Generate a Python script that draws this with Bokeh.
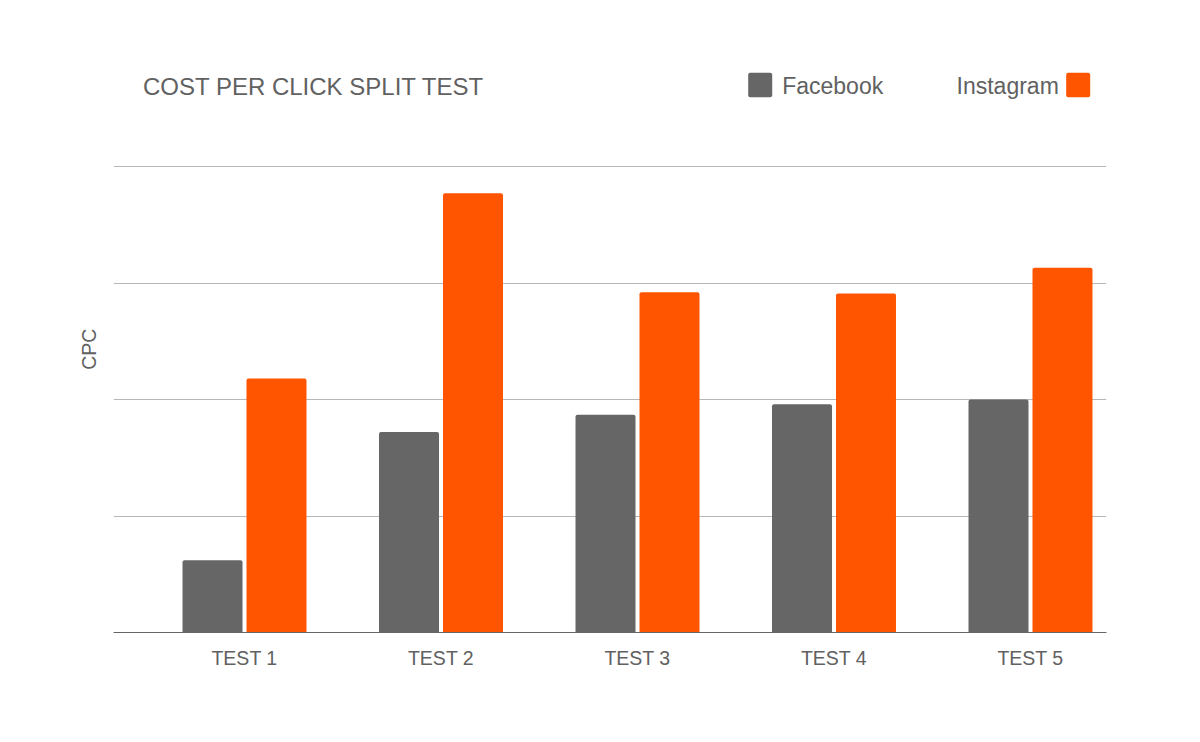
from bokeh.plotting import figure
from bokeh.models import Range1d, FixedTicker, ColumnDataSource, Title
from bokeh.layouts import column
from bokeh.core.properties import value
from bokeh.embed import file_html
from bokeh.resources import INLINE

categories = ["TEST 1", "TEST 2", "TEST 3", "TEST 4", "TEST 5"]
facebook = [0.62, 1.72, 1.87, 1.96, 2.00]
instagram = [2.18, 3.77, 2.92, 2.91, 3.13]
y_ticks = [1, 2, 3, 4]
series_names = ["Facebook", "Instagram"]
title_text = "COST PER CLICK SPLIT TEST"
y_label = "CPC"

FB_COLOR = "#666666"
IG_COLOR = "#ff5500"
TEXT_COLOR = "#616161"
FONT = "Liberation Sans"

W = 1184
HEAD_H = 120
MAIN_H = 606
LEFT, RIGHT = 113, 78

# ---------- header: title + legend (pixel coordinates) ----------
head = figure(width=W, height=HEAD_H, output_backend="svg", toolbar_location=None,
              x_range=Range1d(LEFT, W - RIGHT), y_range=Range1d(HEAD_H, 0),
              min_border_left=LEFT, min_border_right=RIGHT,
              min_border_top=0, min_border_bottom=0)
head.axis.visible = False
head.grid.visible = False
head.outline_line_color = None

head.text(x=[142.5], y=[86], text=[title_text], text_font=value(FONT),
          text_font_size="24px", text_color=TEXT_COLOR,
          text_align="left", text_baseline="middle")
head.quad(left=[747.7], right=[771.7], top=[72.3], bottom=[96.7],
          fill_color=FB_COLOR, line_color=None, border_radius=2)
head.text(x=[781.7], y=[85], text=[series_names[0]], text_font=value(FONT),
          text_font_size="23px", text_color=TEXT_COLOR,
          text_align="left", text_baseline="middle")
head.quad(left=[1065.7], right=[1089.7], top=[72.3], bottom=[96.7],
          fill_color=IG_COLOR, line_color=None, border_radius=2)
head.text(x=[1058.3], y=[85], text=[series_names[1]], text_font=value(FONT),
          text_font_size="23px", text_color=TEXT_COLOR,
          text_align="right", text_baseline="middle")

# ---------- main chart ----------
p = figure(width=W, height=MAIN_H, output_backend="svg", toolbar_location=None,
           x_range=Range1d(-0.6667, 4.3868), y_range=Range1d(0, 4.0086),
           min_border_left=LEFT, min_border_right=RIGHT,
           min_border_top=45, min_border_bottom=94)
p.outline_line_color = None

idx = list(range(len(categories)))
off = 0.1628
bw = 0.3053
src = ColumnDataSource(dict(
    fx=[i - off for i in idx], ix=[i + off for i in idx],
    fb=facebook, ig=instagram))
p.vbar(x="fx", top="fb", width=bw, bottom=0, source=src,
       fill_color=FB_COLOR, line_color=None, border_radius=(2, 2, 0, 0))
p.vbar(x="ix", top="ig", width=bw, bottom=0, source=src,
       fill_color=IG_COLOR, line_color=None, border_radius=(2, 2, 0, 0))

p.xgrid.visible = False
p.ygrid.ticker = FixedTicker(ticks=y_ticks)
p.ygrid.grid_line_color = "#b7b7b7"
p.ygrid.grid_line_width = 1
p.yaxis.visible = False

# y label as a side title so it can sit off-centre like the reference
p.add_layout(Title(text=y_label, align="left", offset=262.7, standoff=25,
                   vertical_align="middle", text_font=FONT,
                   text_font_size="19.5px", text_font_style="normal",
                   text_color=TEXT_COLOR), "left")

xa = p.xaxis[0]
xa.ticker = FixedTicker(ticks=idx)
xa.major_label_overrides = {i: c for i, c in zip(idx, categories)}
xa.major_tick_line_color = None
xa.minor_tick_line_color = None
xa.axis_line_color = "#666666"
xa.axis_line_width = 1
xa.major_label_text_font = FONT
xa.major_label_text_font_size = "19.5px"
xa.major_label_text_color = TEXT_COLOR
xa.major_label_standoff = 8

layout = column(head, p, spacing=0)
open("out.html", "w").write(file_html(layout, INLINE))
